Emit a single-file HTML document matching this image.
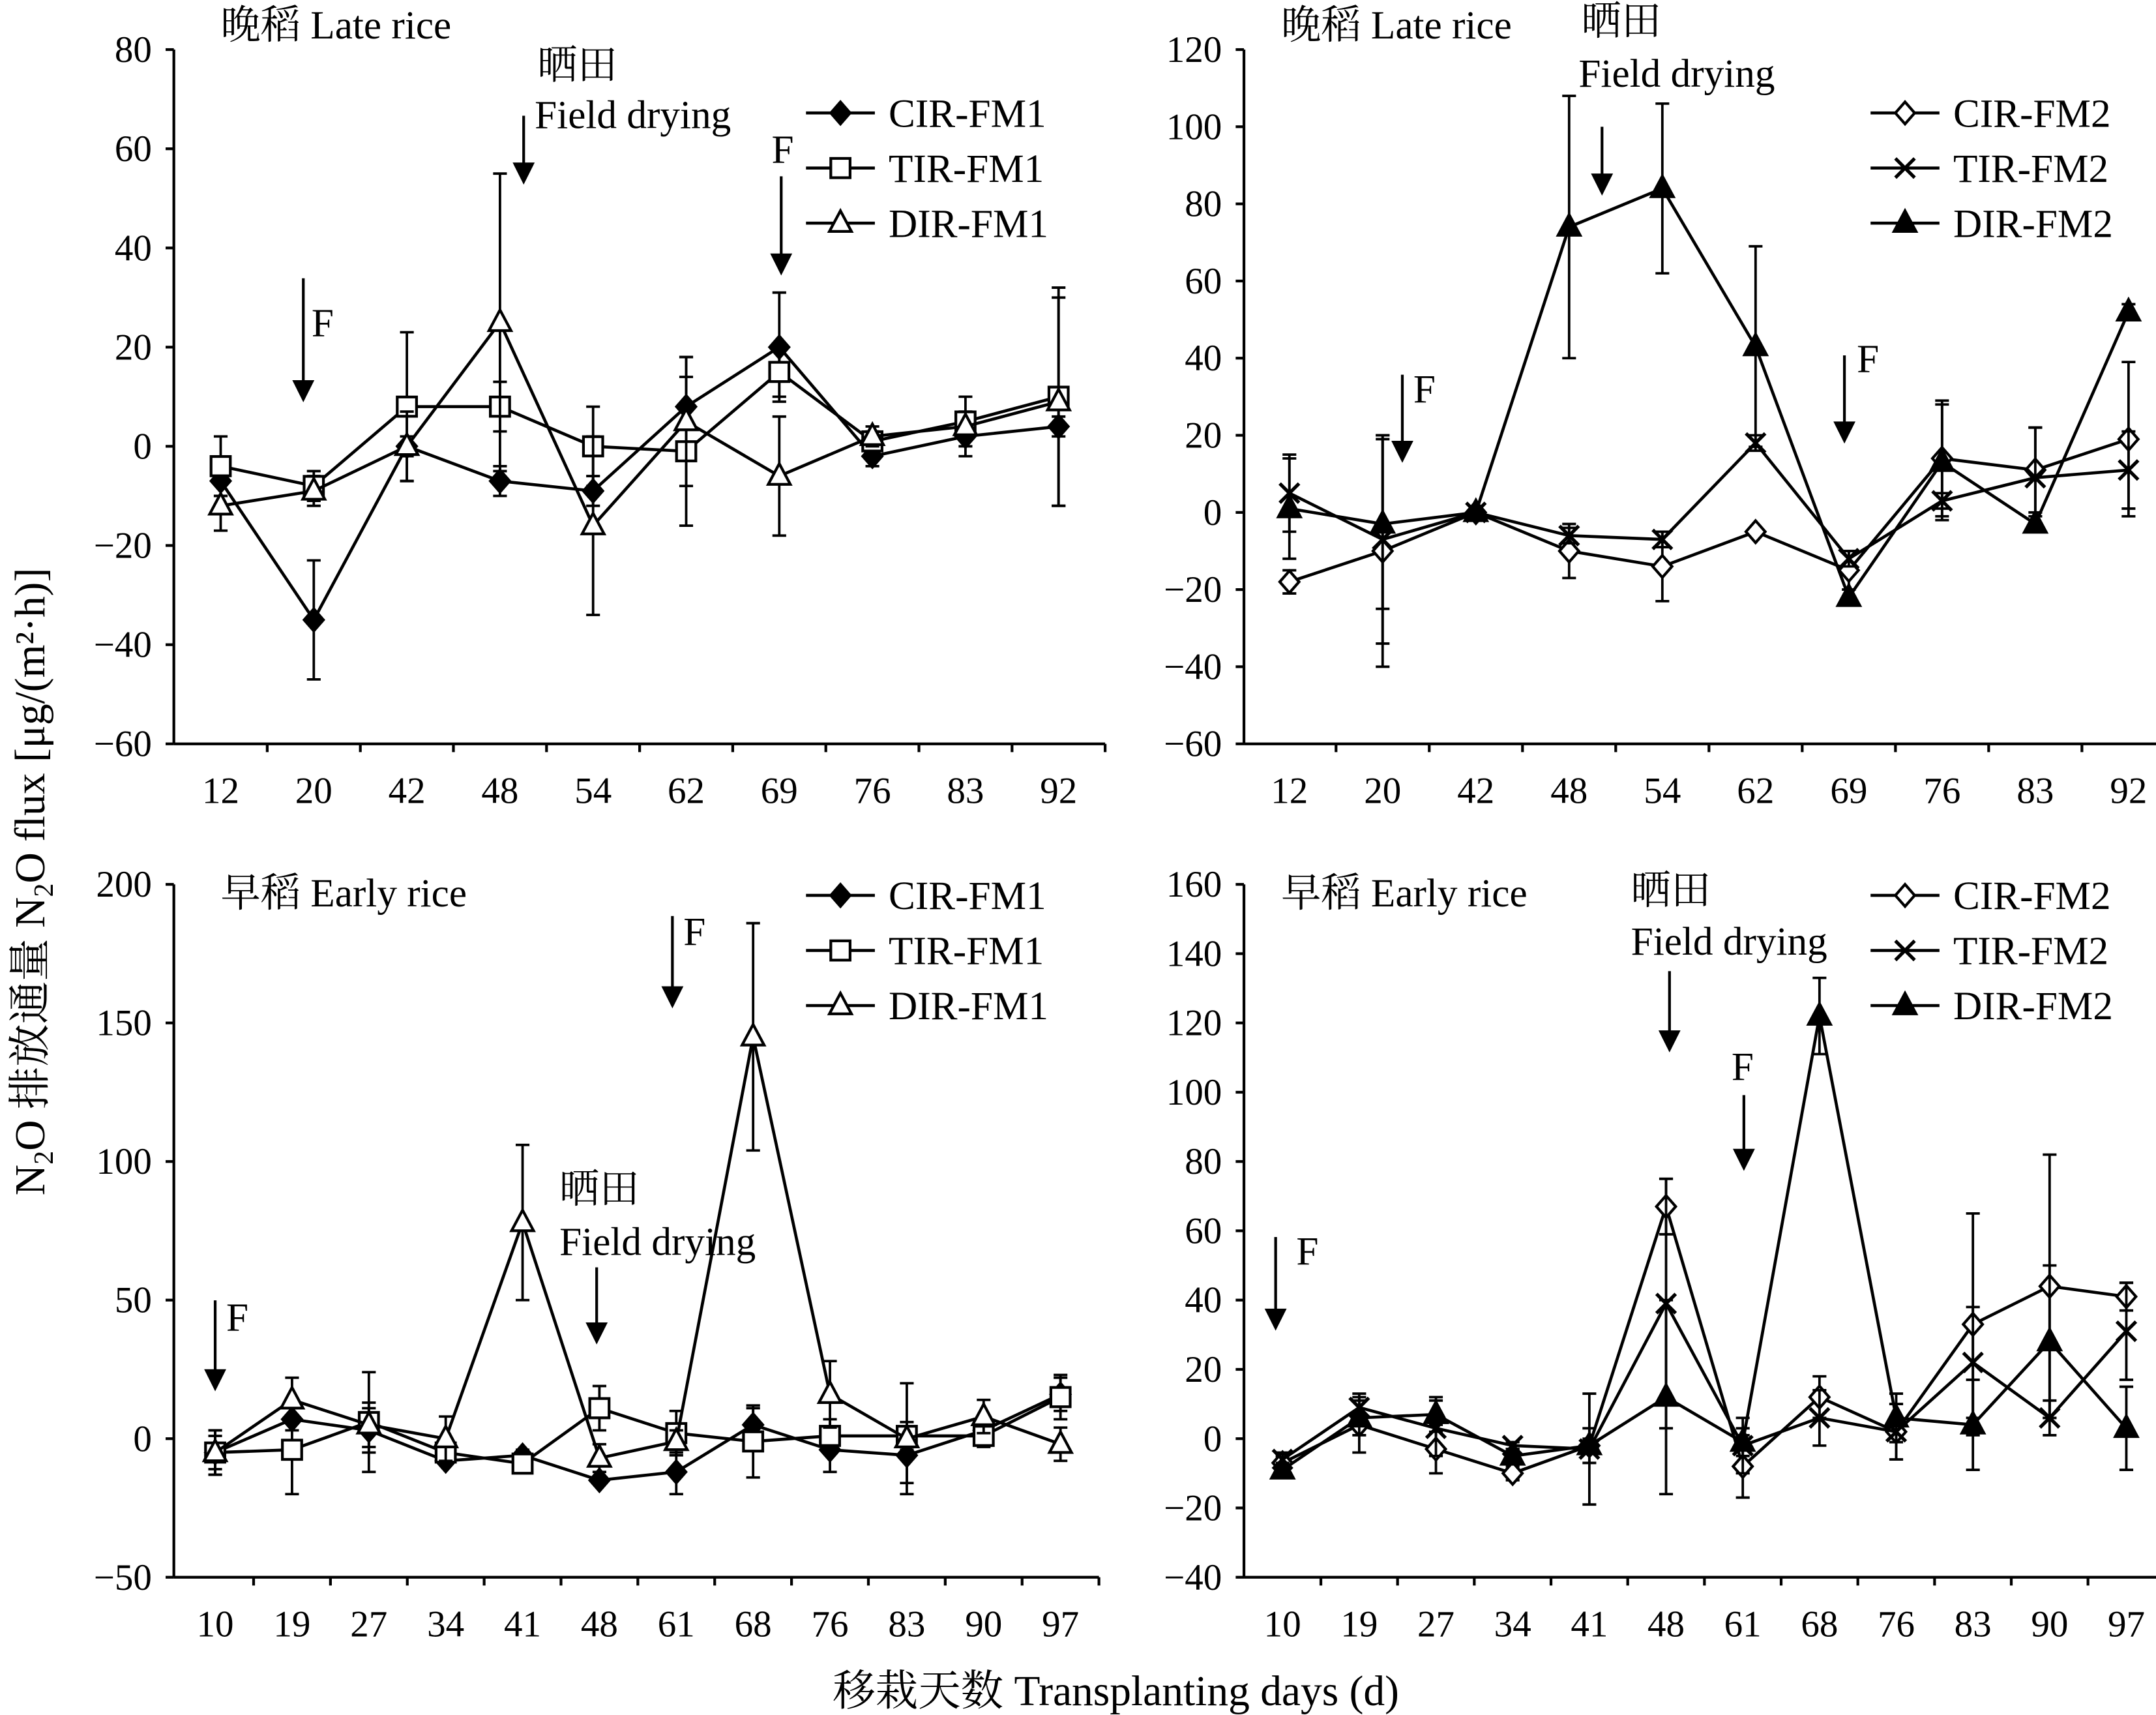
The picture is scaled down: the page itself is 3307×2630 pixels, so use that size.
<!DOCTYPE html>
<html><head><meta charset="utf-8"><style>
html,body{margin:0;padding:0;background:#fff}
svg{display:block}
text{font-family:"Liberation Serif","Noto Serif CJK SC","Noto Sans CJK SC",serif;fill:#000}
</style></head><body>
<svg id="chart" width="3307" height="2630" viewBox="0 0 1565 1245" xmlns="http://www.w3.org/2000/svg">
<text transform="translate(32,640) rotate(-90)" text-anchor="middle" font-size="31">N<tspan font-size="20" dy="6">2</tspan><tspan dy="-6">O 排放通量 N</tspan><tspan font-size="20" dy="6">2</tspan><tspan dy="-6">O flux [μg/(m²·h)]</tspan></text>
<text x="810" y="1238" text-anchor="middle" font-size="31">移栽天数 Transplanting days (d)</text>
</svg>
<script>
// ---- Panel A: late rice, FM1
const catsA=["12","20","42","48","54","62","69","76","83","92"];
const aCIR=[-7,-35,0,-7,-9,8,20,-2,2,4];
const aCIRe=[3,12,2,3,3,10,11,2,2,2];
const aTIR=[-4,-8,8,8,0,-1,15,1,5,10];
const aTIRe=[6,3,15,5,8,15,5,2,2,22];
const aDIR=[-12,-9,0,25,-16,5,-6,2,4,9];
const aDIRe=[5,3,7,30,18,13,12,2,6,21];
const ticksA=[80,60,40,20,0,-20,-40,-60];
// ---- Panel B: late rice, FM2
const catsB=["12","20","42","48","54","62","69","76","83","92"];
const bCIR=[-18,-10,0,-10,-14,-5,-15,14,11,19];
const bCIRe=[3,30,1,7,9,1,5,15,11,20];
const bTIR=[5,-7,0,-6,-7,18,-12,3,9,11];
const bTIRe=[10,27,1,2,2,2,2,2,13,10];
const bDIR=[1,-3,0,74,84,43,-22,13,-3,52];
const bDIRe=[13,22,1,34,22,26,2,15,2,2];
const ticksB=[120,100,80,60,40,20,0,-20,-40,-60];
// ---- Panel C: early rice, FM1
const catsC=["10","19","27","34","41","48","61","68","76","83","90","97"];
const cCIR=[-5,7,3,-8,-6,-15,-12,5,-4,-6,3,16];
const cCIRe=[6,4,8,1,2,1,8,6,8,10,2,6];
const cTIR=[-5,-4,6,-5,-9,11,2,-1,1,1,1,15];
const cTIRe=[8,16,18,4,3,8,8,13,6,5,4,8];
const cDIR=[-5,14,5,0,78,-7,-1,145,16,0,8,-2];
const cDIRe=[8,8,8,8,28,5,4,41,12,20,6,6];
const ticksC=[200,150,100,50,0,-50];
// ---- Panel D: early rice, FM2
const catsD=["10","19","27","34","41","48","61","68","76","83","90","97"];
const dCIR=[-7,4,-3,-10,-2,67,-8,12,2,33,44,41];
const dCIRe=[2,8,7,2,5,8,9,6,8,32,38,4];
const dTIR=[-6,9,3,-2,-3,39,-2,6,2,22,6,31];
const dTIRe=[2,4,8,1,16,36,8,8,8,16,5,14];
const dDIR=[-9,6,7,-5,-2,12,-1,122,6,4,28,3];
const dDIRe=[2,5,5,2,2,28,4,11,7,13,22,12];
const ticksD=[160,140,120,100,80,60,40,20,0,-20,-40];

const NS="http://www.w3.org/2000/svg";
const svg=document.getElementById('chart');
function mk(tag,attrs,parent){const e=document.createElementNS(NS,tag);for(const k in attrs)e.setAttribute(k,attrs[k]);(parent||svg).appendChild(e);return e;}

function marker(g,type,x,y){
  let e;
  if(type==='fdiamond'||type==='odiamond'){
    e=mk('polygon',{points:`${x},${y-8} ${x+7},${y} ${x},${y+8} ${x-7},${y}`,fill:type==='fdiamond'?'#000':'#fff',stroke:'#000','stroke-width':2},g);
  }else if(type==='square'){
    e=mk('rect',{x:x-7,y:y-7,width:14,height:14,fill:'#fff',stroke:'#000','stroke-width':2},g);
  }else if(type==='otri'||type==='ftri'){
    e=mk('polygon',{points:`${x},${y-9} ${x+8},${y+6} ${x-8},${y+6}`,fill:type==='ftri'?'#000':'#fff',stroke:'#000','stroke-width':2},g);
  }else if(type==='cross'){
    e=mk('path',{d:`M${x-7},${y-7}L${x+7},${y+7}M${x-7},${y+7}L${x+7},${y-7}`,stroke:'#000','stroke-width':2.5,fill:'none'},g);
  }
  return e;
}

function arrow(x,y1,y2){
  mk('line',{x1:x,y1:y1,x2:x,y2:y2-12,stroke:'#000','stroke-width':2});
  const a=mk('polygon',{points:`${x-8},${y2-16} ${x+8},${y2-16} ${x},${y2}`,fill:'#000'});
  
  
}
function label(x,y,t,name,anchor){
  const e=mk('text',{x:x,y:y,'font-size':29,'text-anchor':anchor||'start'});
  e.textContent=t;
  
  
  return e;
}

function panel(id,ax,top,bottom,x0,step,cats,ticks,series,legX,legY){
  const ymax=ticks[0],ymin=ticks[ticks.length-1];
  const sy=v=>top+(ymax-v)*(bottom-top)/(ymax-ymin);
  const sx=i=>x0+i*step;
  const g=mk('g',{});
  
  
  const right=sx(cats.length-1)+step/2;
  mk('line',{x1:ax,y1:top,x2:ax,y2:bottom,stroke:'#000','stroke-width':2},g);
  mk('line',{x1:ax,y1:bottom,x2:right,y2:bottom,stroke:'#000','stroke-width':2},g);
  ticks.forEach(t=>{
    const y=sy(t);
    mk('line',{x1:ax-6,y1:y,x2:ax,y2:y,stroke:'#000','stroke-width':2},g);
    const tx=mk('text',{x:ax-16,y:y+9,'font-size':27,'text-anchor':'end'},g);
    tx.textContent=(t<0?'\u2212'+(-t):t);
    
    
  });
  cats.forEach((c,i)=>{
    const x=sx(i);
    mk('line',{x1:x+step/2,y1:bottom,x2:x+step/2,y2:bottom+6,stroke:'#000','stroke-width':2},g);
    const tx=mk('text',{x:x,y:bottom+43,'font-size':27,'text-anchor':'middle'},g);
    tx.textContent=c;
    
    
  });
  series.forEach((s,k)=>{
    const sg=mk('g',{},g);
    
    
    s.vals.forEach((v,i)=>{
      const x=sx(i),y1=sy(v+s.err[i]),y2=sy(v-s.err[i]);
      mk('path',{d:`M${x},${y1}L${x},${y2}M${x-5},${y1}L${x+5},${y1}M${x-5},${y2}L${x+5},${y2}`,stroke:'#000','stroke-width':1.8,fill:'none'},sg);
    });
    const pts=s.vals.map((v,i)=>sx(i)+','+sy(v)).join(' ');
    const pl=mk('polyline',{points:pts,fill:'none',stroke:'#000','stroke-width':2.2},sg);
    
    
    s.vals.forEach((v,i)=>{
      const m=marker(sg,s.type,sx(i),sy(v));
      
      
    });
    const ly=legY+k*40;
    const lg=mk('g',{},g);
    
    
    mk('line',{x1:legX,y1:ly,x2:legX+50,y2:ly,stroke:'#000','stroke-width':2.2},lg);
    marker(lg,s.type,legX+25,ly);
    const lt=mk('text',{x:legX+60,y:ly+10,'font-size':29},lg);
    lt.textContent=s.name;
  });
}

panel('panel-late-fm1',126,36,540,160,67.6,catsA,ticksA,[
 {name:'CIR-FM1',vals:aCIR,err:aCIRe,type:'fdiamond'},
 {name:'TIR-FM1',vals:aTIR,err:aTIRe,type:'square'},
 {name:'DIR-FM1',vals:aDIR,err:aDIRe,type:'otri'}],585,82);
panel('panel-late-fm2',903,36,540,936,67.7,catsB,ticksB,[
 {name:'CIR-FM2',vals:bCIR,err:bCIRe,type:'odiamond'},
 {name:'TIR-FM2',vals:bTIR,err:bTIRe,type:'cross'},
 {name:'DIR-FM2',vals:bDIR,err:bDIRe,type:'ftri'}],1358,82);
panel('panel-early-fm1',126,642,1145,156,55.8,catsC,ticksC,[
 {name:'CIR-FM1',vals:cCIR,err:cCIRe,type:'fdiamond'},
 {name:'TIR-FM1',vals:cTIR,err:cTIRe,type:'square'},
 {name:'DIR-FM1',vals:cDIR,err:cDIRe,type:'otri'}],585,650);
panel('panel-early-fm2',903,642,1145,931,55.7,catsD,ticksD,[
 {name:'CIR-FM2',vals:dCIR,err:dCIRe,type:'odiamond'},
 {name:'TIR-FM2',vals:dTIR,err:dTIRe,type:'cross'},
 {name:'DIR-FM2',vals:dDIR,err:dDIRe,type:'ftri'}],1358,650);

label(160,28,'晚稻 Late rice','panel-title-late-fm1');
label(390,57,'晒田','field-drying-label');
label(388,93,'Field drying','field-drying-label');
arrow(380,84,134);
label(226,244,'F','fertilization-label'); arrow(220,202,292);
label(560,118,'F','fertilization-label'); arrow(567,128,200);

label(930,28,'晚稻 Late rice','panel-title-late-fm2');
label(1148,25,'晒田','field-drying-label');
label(1146,63,'Field drying','field-drying-label');
arrow(1163,92,142);
label(1026,292,'F','fertilization-label'); arrow(1018,272,336);
label(1348,270,'F','fertilization-label'); arrow(1339,258,322);

label(160,658,'早稻 Early rice','panel-title-early-fm1');
label(164,966,'F','fertilization-label'); arrow(156,944,1010);
label(406,873,'晒田','field-drying-label');
label(406,911,'Field drying','field-drying-label');
arrow(433,920,976);
label(496,686,'F','fertilization-label'); arrow(488,665,732);

label(930,658,'早稻 Early rice','panel-title-early-fm2');
label(1184,656,'晒田','field-drying-label');
label(1184,693,'Field drying','field-drying-label');
arrow(1212,705,764);
label(1257,784,'F','fertilization-label'); arrow(1266,795,850);
label(941,918,'F','fertilization-label'); arrow(926,898,966);
</script>
</body></html>
